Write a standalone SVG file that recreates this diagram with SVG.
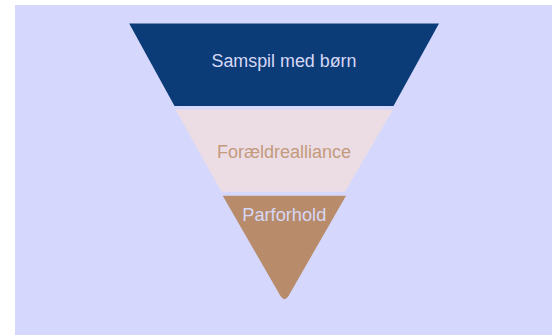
<svg xmlns="http://www.w3.org/2000/svg" width="552" height="335" viewBox="0 0 552 335">
<style>
.lbl{font-family:"Liberation Sans","DejaVu Sans",sans-serif;font-size:18px;text-anchor:middle}
</style>
<rect x="0" y="0" width="552" height="335" fill="#ffffff"/>
<rect x="15" y="5" width="537" height="330" fill="#d5d8fc"/>
<g id="samspil">
<polygon points="129.2,23.5 439,23.5 393.5,106 174.5,106" fill="#0c3c78"/>
<text class="lbl" x="284" y="66.5" fill="#d6d8f6" textLength="145" lengthAdjust="spacingAndGlyphs">Samspil med børn</text>
</g>
<g id="foraeldrealliance">
<polygon points="175.5,109.5 393,109.5 345,191.7 221.5,191.7" fill="#ecdde5"/>
<text class="lbl" x="284" y="158.3" fill="#c39a7c" textLength="134" lengthAdjust="spacingAndGlyphs">Forældrealliance</text>
</g>
<g id="parforhold">
<path d="M222.7,195.7 L346,195.7 L288.5,296 Q284.5,302.5 280.5,296 Z" fill="#b88b6b"/>
<text class="lbl" x="284.3" y="220.7" fill="#d6d8f6" textLength="84" lengthAdjust="spacingAndGlyphs">Parforhold</text>
</g>
</svg>
